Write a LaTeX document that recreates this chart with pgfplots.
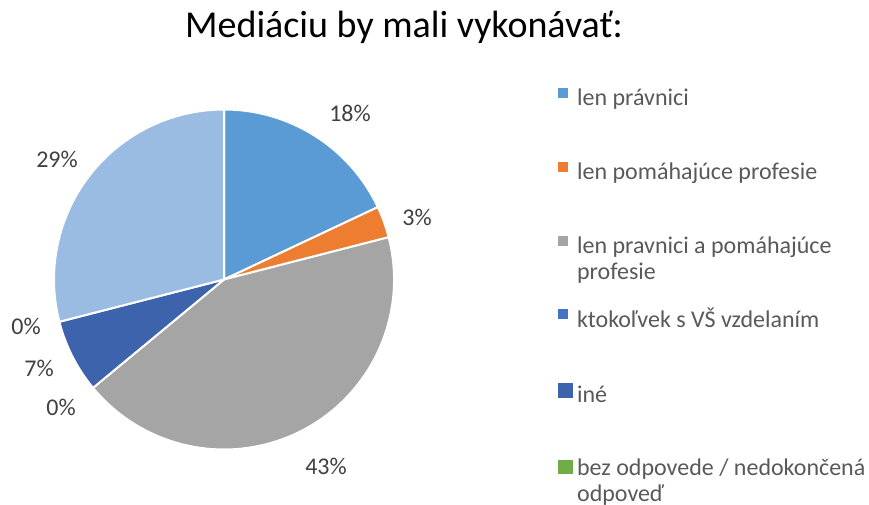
\documentclass[border=0pt]{standalone}
\usepackage{pgfplots}
\pgfplotsset{compat=1.18}
\usepackage{fontspec}
\setmainfont{Carlito}
\definecolor{c1}{HTML}{5B9BD5}
\definecolor{c2}{HTML}{ED7D31}
\definecolor{c3}{HTML}{A5A5A5}
\definecolor{c4}{HTML}{4472C4}
\definecolor{c5}{HTML}{3E63AD}
\definecolor{c6}{HTML}{70AD47}
\definecolor{c7}{HTML}{9ABCE2}
\definecolor{legtxt}{HTML}{595959}
\definecolor{labtxt}{HTML}{404040}
% data (percent)
\def\vA{18}\def\vB{3}\def\vC{43}\def\vD{0}\def\vE{7}\def\vF{0}\def\vG{29}
\pgfmathsetmacro\aA{90}
\pgfmathsetmacro\aB{\aA-3.6*\vA}
\pgfmathsetmacro\aC{\aB-3.6*\vB}
\pgfmathsetmacro\aD{\aC-3.6*\vC}
\pgfmathsetmacro\aE{\aD-3.6*\vD}
\pgfmathsetmacro\aF{\aE-3.6*\vE}
\pgfmathsetmacro\aG{\aF-3.6*\vF}
\pgfmathsetmacro\aH{\aG-3.6*\vG}
\newcommand\two[2]{\begin{tabular}[t]{@{}l@{}}#1\\#2\end{tabular}}
\tikzset{
  slice/.style={draw=white, line width=2pt, line join=round},
  ent/.style={text height=17pt, text depth=5pt, inner sep=0pt},
  lab/.style={anchor=base, text=labtxt, font=\fontsize{24}{28}\selectfont},
}
\begin{document}
\begin{tikzpicture}
\begin{axis}[
  at={(0,0)}, anchor=south west,
  width=869pt, height=504pt, scale only axis,
  xmin=0, xmax=869, ymin=0, ymax=504,
  hide axis, clip=false,
  legend cell align=left,
  legend style={draw=none, fill=none, at={(axis cs:555,418)}, anchor=north west,
    row sep=51pt, column sep=5pt, font=\fontsize{24}{26}\selectfont, text=legtxt},
]
\filldraw[slice, fill=c1] (axis cs:224,224.5) -- ++(\aA:170pt) arc[start angle=\aA, end angle=\aB, radius=170pt] -- cycle;
\filldraw[slice, fill=c2] (axis cs:224,224.5) -- ++(\aB:170pt) arc[start angle=\aB, end angle=\aC, radius=170pt] -- cycle;
\filldraw[slice, fill=c3] (axis cs:224,224.5) -- ++(\aC:170pt) arc[start angle=\aC, end angle=\aD, radius=170pt] -- cycle;
\filldraw[slice, fill=c5] (axis cs:224,224.5) -- ++(\aE:170pt) arc[start angle=\aE, end angle=\aF, radius=170pt] -- cycle;
\filldraw[slice, fill=c7] (axis cs:224,224.5) -- ++(\aG:170pt) arc[start angle=\aG, end angle=\aH, radius=170pt] -- cycle;

\node[anchor=base, font=\fontsize{38}{44}\selectfont] at (axis cs:404,466) {Mediáciu by mali vykonávať:};
\node[lab] at (axis cs:350,382) {18\%};
\node[lab] at (axis cs:417,279) {3\%};
\node[lab] at (axis cs:326,30) {43\%};
\node[lab] at (axis cs:26,170) {0\%};
\node[lab] at (axis cs:39,128) {7\%};
\node[lab] at (axis cs:61,89) {0\%};
\node[lab] at (axis cs:57,336) {29\%};

\addlegendimage{legend image code/.code={\fill[c1] (0pt,2.5pt) rectangle (9pt,11.5pt);}}
\addlegendentry[ent]{len právnici}
\addlegendimage{legend image code/.code={\fill[c2] (0pt,2.5pt) rectangle (9pt,11.5pt);}}
\addlegendentry[ent]{len pomáhajúce profesie}
\addlegendimage{legend image code/.code={\fill[c3] (0pt,2.5pt) rectangle (9pt,11.5pt);}}
\addlegendentry[ent]{\two{len pravnici a pomáhajúce}{profesie}}
\addlegendimage{legend image code/.code={\fill[c4] (0pt,2.5pt) rectangle (9pt,11.5pt);}}
\addlegendentry[ent]{ktokoľvek s VŠ vzdelaním}
\addlegendimage{legend image code/.code={\fill[c5] (0pt,0pt) rectangle (13.5pt,13.5pt);}}
\addlegendentry[ent]{iné}
\addlegendimage{legend image code/.code={\fill[c6] (0pt,-3.5pt) rectangle (13.5pt,10pt);}}
\addlegendentry[ent]{\two{bez odpovede / nedokončená}{odpoveď}}
\end{axis}
\pgfresetboundingbox
\path (0,0) rectangle (869pt,504pt);
\end{tikzpicture}
\end{document}
